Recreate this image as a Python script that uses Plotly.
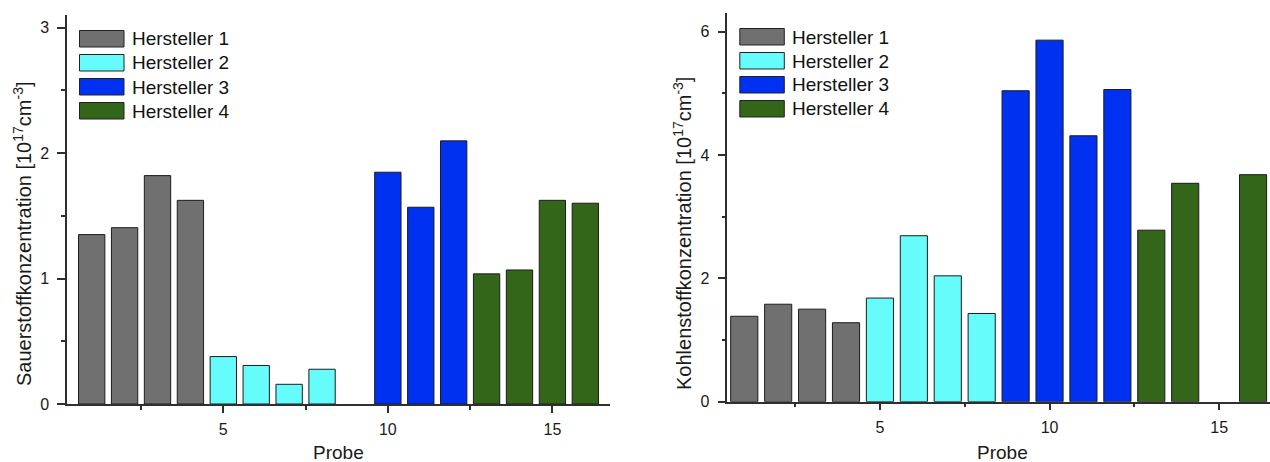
import plotly.graph_objects as go

# ---------------- data ----------------
manufacturers = ["Hersteller 1", "Hersteller 2", "Hersteller 3", "Hersteller 4"]
colors = ["#707070", "#66FCFC", "#0030F0", "#336619"]

# left panel: oxygen concentration [1e17 cm^-3]
o_probes = [[1, 2, 3, 4], [5, 6, 7, 8], [10, 11, 12], [13, 14, 15, 16]]
o_values = [[1.35, 1.405, 1.82, 1.623],
            [0.378, 0.307, 0.157, 0.277],
            [1.847, 1.568, 2.097],
            [1.037, 1.068, 1.623, 1.600]]

# right panel: carbon concentration [1e17 cm^-3]
c_probes = [[1, 2, 3, 4], [5, 6, 7, 8], [9, 10, 11, 12], [13, 14, 16]]
c_values = [[1.385, 1.58, 1.50, 1.28],
            [1.68, 2.69, 2.04, 1.43],
            [5.04, 5.86, 4.31, 5.06],
            [2.78, 3.54, 3.68]]

x_title = "Probe"
y_title_left = "Sauerstoffkonzentration [10<sup>17</sup>cm<sup>-3</sup>]"
y_title_right = "Kohlenstoffkonzentration [10<sup>17</sup>cm<sup>-3</sup>]"

# ---------------- layout helpers ----------------
W, H = 1270, 462
FONT = "Arial, Liberation Sans, sans-serif"
AX = "#2f2f2f"


def px(x):
    return x / W


def py(y):
    return 1 - y / H


# plot boxes in pixels (left, top, right, bottom)
box_l = (67, 15, 610, 404)
box_r = (727.3, 13, 1270, 401.7)

fig = go.Figure()

for i, name in enumerate(manufacturers):
    fig.add_trace(go.Bar(x=o_probes[i], y=o_values[i], name=name, width=0.8,
                         marker=dict(color=colors[i], line=dict(color="#1c1c1c", width=1)),
                         xaxis="x", yaxis="y", showlegend=False))
    fig.add_trace(go.Bar(x=c_probes[i], y=c_values[i], name=name, width=0.8,
                         marker=dict(color=colors[i], line=dict(color="#1c1c1c", width=1)),
                         xaxis="x2", yaxis="y2", showlegend=False))

tickfont = dict(family=FONT, size=16, color="#1a1a1a")


def xax(rng, dom, anchor, outside=True, overlay=None):
    d = dict(range=rng, domain=dom, anchor=anchor, showline=True, linecolor=AX, linewidth=1.5,
             showgrid=False, zeroline=False, tickmode="linear", tick0=0, dtick=5,
             ticks="outside" if outside else "inside", ticklen=7, tickwidth=1.5, tickcolor=AX,
             minor=dict(ticks="outside" if outside else "inside", ticklen=4, tick0=0, dtick=2.5,
                        tickwidth=1.5, tickcolor=AX),
             tickfont=tickfont, showticklabels=outside, ticklabelstandoff=3, fixedrange=True)
    if overlay:
        d.update(overlaying=overlay, side="top")
    return d


def yax(rng, dom, anchor, major, minor_, outside=True, overlay=None):
    d = dict(range=rng, domain=dom, anchor=anchor, showline=True, linecolor=AX, linewidth=1.5,
             showgrid=False, zeroline=False, tickmode="linear", tick0=0, dtick=major,
             ticks="outside" if outside else "inside", ticklen=8, tickwidth=1.5, tickcolor=AX,
             minor=dict(ticks="outside" if outside else "inside", ticklen=4, tick0=0, dtick=minor_,
                        tickwidth=1.5, tickcolor=AX),
             tickfont=tickfont, showticklabels=outside, ticklabelstandoff=5, fixedrange=True)
    if overlay:
        d.update(overlaying=overlay, side="right")
    return d


xd_l = [px(box_l[0]), px(box_l[2])]
yd_l = [py(box_l[3]), py(box_l[1])]
xd_r = [px(box_r[0]), min(1.0, px(box_r[2]))]
yd_r = [py(box_r[3]), py(box_r[1])]

xr_l, yr_l = [0.25, 16.75], [0, 3.1]
xr_r, yr_r = [0.5, 16.5], [0, 6.3]

fig.update_layout(
    template="none",
    width=W, height=H,
    margin=dict(l=0, r=0, t=0, b=0),
    paper_bgcolor="white", plot_bgcolor="white",
    font=dict(family=FONT, color="#1a1a1a"),
    barmode="overlay",
    showlegend=False,
    xaxis=xax(xr_l, xd_l, "y"),
    yaxis=yax(yr_l, yd_l, "x", 1, 0.5),
    xaxis3=xax(xr_l, xd_l, "y", outside=False, overlay="x"),
    yaxis3=yax(yr_l, yd_l, "x", 1, 0.5, outside=False, overlay="y"),
    xaxis2=xax(xr_r, xd_r, "y2"),
    yaxis2=yax(yr_r, yd_r, "x2", 2, 1),
    xaxis4=xax(xr_r, xd_r, "y2", outside=False, overlay="x2"),
    yaxis4=yax(yr_r, yd_r, "x2", 2, 1, outside=False, overlay="y2"),
)

# axis titles
ann = []
for yt, tx, xc in [(y_title_left, 23, 338.5), (y_title_right, 683, 1002)]:
    ann.append(dict(text=yt, x=px(tx), y=py(234), xref="paper", yref="paper", showarrow=False,
                    textangle=-90, xanchor="center", yanchor="middle",
                    font=dict(family=FONT, size=20, color="#1a1a1a")))
    ann.append(dict(text=x_title, x=px(xc), y=py(452), xref="paper", yref="paper", showarrow=False,
                    xanchor="center", yanchor="middle",
                    font=dict(family=FONT, size=19, color="#1a1a1a")))

# legend (drawn as swatches + labels inside each panel)
shapes = []
for box in (box_l, box_r):
    x0 = box[0] + 12.5
    for i, name in enumerate(manufacturers):
        top = box[1] + 15.5 + 24 * i
        shapes.append(dict(type="rect", xref="paper", yref="paper",
                           x0=px(x0), x1=px(x0 + 44.5), y0=py(top + 16.5), y1=py(top),
                           fillcolor=colors[i], line=dict(color="#222222", width=1)))
        ann.append(dict(text=name, x=px(x0 + 50.5), y=py(top + 8.5), xref="paper", yref="paper",
                        showarrow=False, xanchor="left", yanchor="middle",
                        font=dict(family=FONT, size=19, color="#111111")))

fig.update_layout(annotations=ann, shapes=shapes)

fig.write_html("out.html")
